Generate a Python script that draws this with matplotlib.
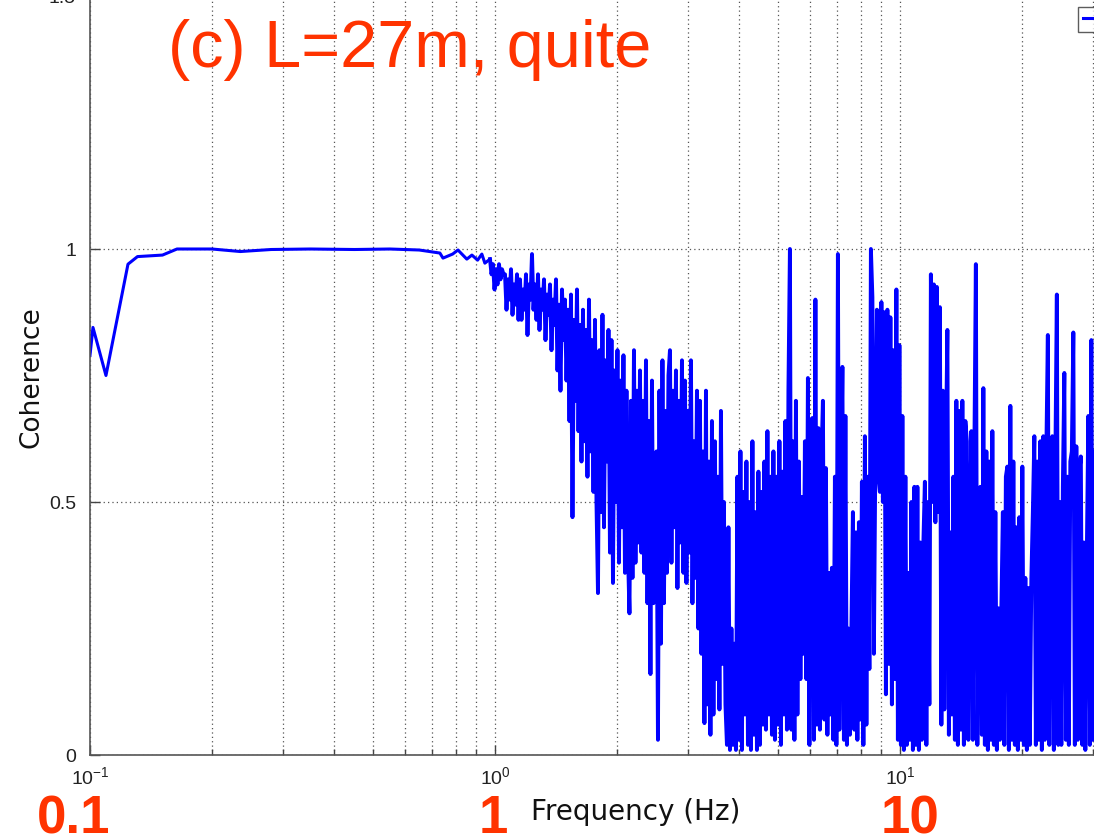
import numpy as np
import matplotlib
matplotlib.use("Agg")
import matplotlib.pyplot as plt
from matplotlib.ticker import LogLocator, FixedLocator, FuncFormatter

plt.rcParams["font.family"] = ["Liberation Sans", "DejaVu Sans"]
plt.rcParams["mathtext.fontset"] = "custom"
plt.rcParams["mathtext.rm"] = "Liberation Sans"
plt.rcParams["mathtext.default"] = "regular"
plt.rcParams["path.simplify"] = False

# smooth low-frequency part (Hz, coherence)
freq_low = [0.100, 0.1017, 0.1095, 0.1241, 0.131, 0.151, 0.164, 0.20, 0.235,
            0.28, 0.35, 0.45, 0.55, 0.65, 0.731, 0.744, 0.786, 0.81, 0.852,
            0.877, 0.906, 0.928, 0.944, 0.972]
coh_low = [0.79, 0.845, 0.75, 0.97, 0.985, 0.988, 1.0, 1.0, 0.995,
           0.999, 1.0, 0.999, 1.0, 0.998, 0.992, 0.982, 0.99, 0.998, 0.98,
           0.988, 0.978, 0.99, 0.972, 0.98]

# noisy part, one value every ~1.5 px (log-spaced) from 0.972 Hz to 34.6 Hz
f_noisy_start = 0.972
f_noisy_stop = 34.6
coh_noisy = [
    0.98, 0.95, 0.97, 0.92, 0.96, 0.93, 0.97, 0.94, 0.96, 0.95,
    0.95, 0.88, 0.94, 0.90, 0.96, 0.87, 0.93, 0.89, 0.95, 0.86,
    0.94, 0.86, 0.92, 0.88, 0.95, 0.83, 0.93, 0.90, 0.99, 0.88,
    0.93, 0.86, 0.95, 0.84, 0.92, 0.88, 0.94, 0.82, 0.91, 0.87,
    0.93, 0.80, 0.90, 0.85, 0.94, 0.76, 0.89, 0.72, 0.92, 0.82,
    0.90, 0.74, 0.88, 0.66, 0.91, 0.47, 0.86, 0.70, 0.92, 0.64,
    0.85, 0.58, 0.88, 0.62, 0.84, 0.55, 0.90, 0.60, 0.82, 0.52,
    0.86, 0.50, 0.32, 0.80, 0.48, 0.87, 0.45, 0.78, 0.58, 0.84,
    0.40, 0.82, 0.34, 0.76, 0.50, 0.80, 0.38, 0.74, 0.45, 0.79,
    0.36, 0.72, 0.40, 0.28, 0.70, 0.35, 0.80, 0.38, 0.72, 0.42,
    0.76, 0.40, 0.70, 0.36, 0.78, 0.30, 0.66, 0.16, 0.74, 0.30,
    0.35, 0.60, 0.03, 0.72, 0.22, 0.78, 0.30, 0.68, 0.36, 0.75,
    0.80, 0.38, 0.72, 0.45, 0.76, 0.33, 0.70, 0.42, 0.78, 0.36,
    0.74, 0.34, 0.68, 0.40, 0.78, 0.30, 0.62, 0.35, 0.72, 0.25,
    0.70, 0.20, 0.60, 0.063, 0.72, 0.10, 0.58, 0.04, 0.66, 0.08,
    0.62, 0.15, 0.55, 0.09, 0.68, 0.18, 0.50, 0.10, 0.02, 0.45,
    0.01, 0.25, 0.02, 0.22, 0.01, 0.55, 0.03, 0.60, 0.01, 0.52,
    0.08, 0.58, 0.02, 0.50, 0.01, 0.62, 0.04, 0.48, 0.01, 0.56,
    0.02, 0.52, 0.06, 0.58, 0.05, 0.64, 0.08, 0.55, 0.04, 0.60,
    0.03, 0.55, 0.06, 0.62, 0.02, 0.56, 0.08, 0.66, 0.05, 0.72,
    1.00, 0.05, 0.62, 0.03, 0.70, 0.08, 0.58, 0.15, 0.51, 0.20,
    0.62, 0.15, 0.745, 0.02, 0.60, 0.666, 0.03, 0.90, 0.06, 0.646,
    0.05, 0.58, 0.70, 0.07, 0.567, 0.04, 0.36, 0.08, 0.37, 0.03,
    0.55, 0.02, 0.99, 0.05, 0.50, 0.767, 0.03, 0.67, 0.02, 0.25,
    0.04, 0.25, 0.48, 0.05, 0.44, 0.03, 0.46, 0.07, 0.54, 0.02,
    0.63, 0.06, 0.55, 0.17, 1.00, 0.905, 0.20, 0.60, 0.88, 0.55,
    0.52, 0.895, 0.50, 0.875, 0.12, 0.88, 0.18, 0.865, 0.10, 0.80,
    0.15, 0.92, 0.03, 0.81, 0.02, 0.67, 0.01, 0.55, 0.02, 0.36,
    0.03, 0.50, 0.01, 0.53, 0.02, 0.53, 0.01, 0.42, 0.03, 0.42,
    0.54, 0.02, 0.50, 0.10, 0.95, 0.50, 0.93, 0.46, 0.925, 0.48,
    0.885, 0.06, 0.72, 0.09, 0.60, 0.84, 0.04, 0.44, 0.08, 0.55,
    0.03, 0.70, 0.02, 0.68, 0.05, 0.70, 0.02, 0.66, 0.62, 0.03,
    0.44, 0.64, 0.03, 0.60, 0.97, 0.02, 0.36, 0.53, 0.04, 0.725,
    0.02, 0.60, 0.01, 0.58, 0.03, 0.64, 0.02, 0.48, 0.01, 0.29,
    0.03, 0.29, 0.48, 0.02, 0.55, 0.57, 0.01, 0.69, 0.03, 0.58,
    0.02, 0.45, 0.01, 0.47, 0.03, 0.57, 0.02, 0.35, 0.01, 0.33,
    0.02, 0.35, 0.48, 0.63, 0.02, 0.58, 0.03, 0.62, 0.01, 0.63,
    0.03, 0.60, 0.83, 0.02, 0.60, 0.63, 0.01, 0.58, 0.91, 0.02,
    0.50, 0.02, 0.53, 0.755, 0.03, 0.55, 0.02, 0.58, 0.60, 0.835,
    0.02, 0.61, 0.03, 0.56, 0.59, 0.02, 0.42, 0.01, 0.40, 0.67,
    0.02, 0.82, 0.03, 0.60, 0.01, 0.70, 0.05, 0.55, 0.02, 0.65,
    0.03, 0.58, 0.02, 0.72, 0.04, 0.56, 0.01, 0.60, 0.03, 0.55,
]

title_text = "(c) L=27m, quite"
freq_marks = ["0.1", "1", "10"]
red = "#ff3300"
blue = "#0000ff"

W, H = 1094, 838
fig = plt.figure(figsize=(W / 100, H / 100), dpi=100)

# axes extend past the right and top edge (cropped screenshot)
ax_left, ax_bottom = 90, 83
ax_w, ax_h = 1215, 759
ax = fig.add_axes([ax_left / W, ax_bottom / H, ax_w / W, ax_h / H])

freq_noisy = np.geomspace(f_noisy_start, f_noisy_stop, len(coh_noisy))

line, = ax.plot(freq_low, coh_low, color=blue, lw=2.2)
ax.plot(freq_noisy, coh_noisy, color=blue, lw=2.8)

ax.set_xscale("log")
ax.set_xlim(0.1, 100)
ax.set_ylim(0, 1.5)
ax.yaxis.set_major_locator(FixedLocator([0, 0.5, 1.0, 1.5]))
ax.yaxis.set_major_formatter(FuncFormatter(lambda v, p: "%g" % v))
ax.xaxis.set_major_locator(LogLocator(base=10))
ax.xaxis.set_minor_locator(LogLocator(base=10, subs=np.arange(2, 10)))
ax.xaxis.set_major_formatter(FuncFormatter(lambda v, p: r"$10^{%d}$" % round(np.log10(v))))

grid_style = dict(color="#555555", linestyle=(0, (1, 2.5)), linewidth=0.9)
ax.grid(True, which="major", axis="both", **grid_style)
ax.grid(True, which="minor", axis="x", **grid_style)

ax.tick_params(which="both", direction="in", colors="#444444", labelcolor="#222222")
ax.tick_params(axis="y", which="major", length=7, width=1, pad=10, labelsize=14)
ax.tick_params(axis="x", which="major", length=7, width=1, pad=8, labelsize=14)
ax.tick_params(axis="x", which="minor", length=4, width=1)
for s in ax.spines.values():
    s.set_color("#555555")
    s.set_linewidth(1.2)

ax.set_xlabel("Frequency (Hz)", family="DejaVu Sans", fontsize=20, color="#111111", va="baseline")
ax.xaxis.set_label_coords((636 - ax_left) / ax_w, -(820 - 755) / ax_h)
ax.set_ylabel("Coherence", family="DejaVu Sans", fontsize=19, color="#111111", va="center")
ax.yaxis.set_label_coords((32 - ax_left) / ax_w, (755 - 377) / ax_h)

ax.legend([line], ["Coherence"], loc="upper left", bbox_to_anchor=(1078 / W, 1 - 7 / H),
          bbox_transform=fig.transFigure, borderaxespad=0, fancybox=False,
          edgecolor="#333333", fontsize=12, handlelength=1.5, borderpad=0.3)

fig.text(168 / W, 1 - 67 / H, title_text, color=red, fontsize=48, ha="left", va="baseline")

# big red frequency marks under the axis (pixel centres)
for lab, xpix in zip(freq_marks, [74, 493, 910]):
    fig.text(xpix / W, 1 - 833 / H, lab, color=red, fontsize=38, fontweight="bold",
             ha="center", va="baseline")

fig.savefig("out.png", dpi=100)
